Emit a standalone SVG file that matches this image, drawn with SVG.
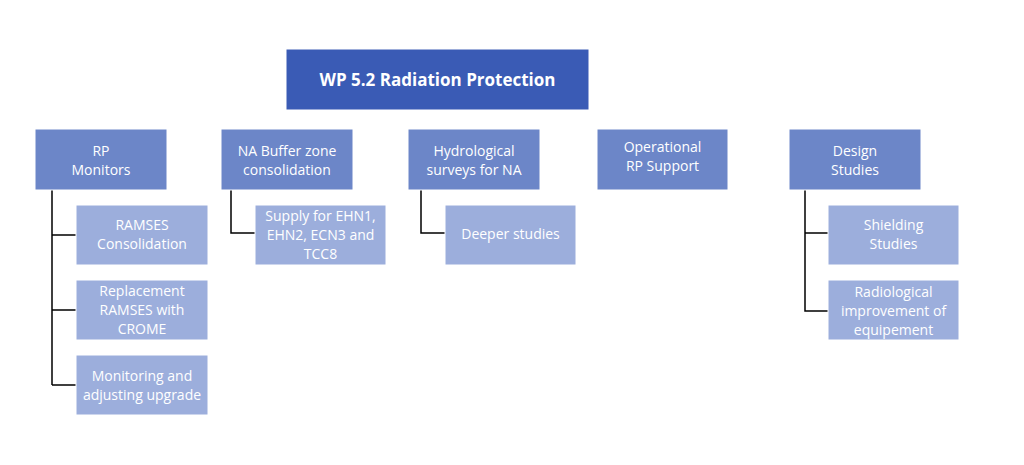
<svg xmlns="http://www.w3.org/2000/svg" width="1024" height="465" viewBox="0 0 1024 465">
<style>
.t{font-family:"Open Sans","Liberation Sans",sans-serif;font-size:14px;fill:#ffffff;text-anchor:middle}
.b{font-family:"Open Sans","Liberation Sans",sans-serif;font-size:17px;font-weight:bold;fill:#ffffff;text-anchor:middle}
.l0{fill:#3A5BB5;stroke:#ffffff;stroke-width:1}
.l1{fill:#6C86C8;stroke:#ffffff;stroke-width:1}
.l2{fill:#9CAEDC;stroke:#ffffff;stroke-width:1}
.c{fill:none;stroke:#000000;stroke-width:1.5}
</style>
<rect width="1024" height="465" fill="#ffffff"/>
<g id="connectors">
<path class="c" d="M52 190V385M52 235H76M52 310H76M52 385H76"/>
<path class="c" d="M231 190V233H255"/>
<path class="c" d="M421 190V233H445"/>
<path class="c" d="M805 190V311H828M805 233H828"/>
</g>
<g id="root"><rect class="l0" x="286" y="49" width="303" height="61"/><text class="b" x="437.5" y="86">WP 5.2 Radiation Protection</text></g>
<g id="rp-monitors"><rect class="l1" x="35" y="129" width="132" height="61"/><text class="t" x="101" y="156">RP</text><text class="t" x="101" y="175">Monitors</text></g>
<g id="na-buffer"><rect class="l1" x="221" y="129" width="132" height="61"/><text class="t" x="287" y="156">NA Buffer zone</text><text class="t" x="287" y="175">consolidation</text></g>
<g id="hydro"><rect class="l1" x="408" y="129" width="132" height="61"/><text class="t" x="474" y="156">Hydrological</text><text class="t" x="474" y="175">surveys for NA</text></g>
<g id="operational"><rect class="l1" x="597" y="129" width="131" height="61"/><text class="t" x="662.5" y="152">Operational</text><text class="t" x="662.5" y="171">RP Support</text></g>
<g id="design"><rect class="l1" x="789" y="129" width="132" height="61"/><text class="t" x="855" y="156">Design</text><text class="t" x="855" y="175">Studies</text></g>
<g id="ramses"><rect class="l2" x="76" y="205" width="132" height="60"/><text class="t" x="142" y="230">RAMSES</text><text class="t" x="142" y="249">Consolidation</text></g>
<g id="replacement"><rect class="l2" x="76" y="280" width="132" height="60"/><text class="t" x="142" y="296">Replacement</text><text class="t" x="142" y="315">RAMSES with</text><text class="t" x="142" y="334">CROME</text></g>
<g id="monitoring"><rect class="l2" x="76" y="355" width="132" height="60"/><text class="t" x="142" y="381">Monitoring and</text><text class="t" x="142" y="400">adjusting upgrade</text></g>
<g id="supply"><rect class="l2" x="255" y="205" width="131" height="60"/><text class="t" x="320.5" y="221">Supply for EHN1,</text><text class="t" x="320.5" y="240">EHN2, ECN3 and</text><text class="t" x="320.5" y="259">TCC8</text></g>
<g id="deeper"><rect class="l2" x="445" y="205" width="131" height="60"/><text class="t" x="510.5" y="239">Deeper studies</text></g>
<g id="shielding"><rect class="l2" x="828" y="205" width="131" height="60"/><text class="t" x="893.5" y="230">Shielding</text><text class="t" x="893.5" y="249">Studies</text></g>
<g id="radiological"><rect class="l2" x="828" y="280" width="131" height="60"/><text class="t" x="893.5" y="297">Radiological</text><text class="t" x="893.5" y="316">improvement of</text><text class="t" x="893.5" y="335">equipement</text></g>
</svg>
